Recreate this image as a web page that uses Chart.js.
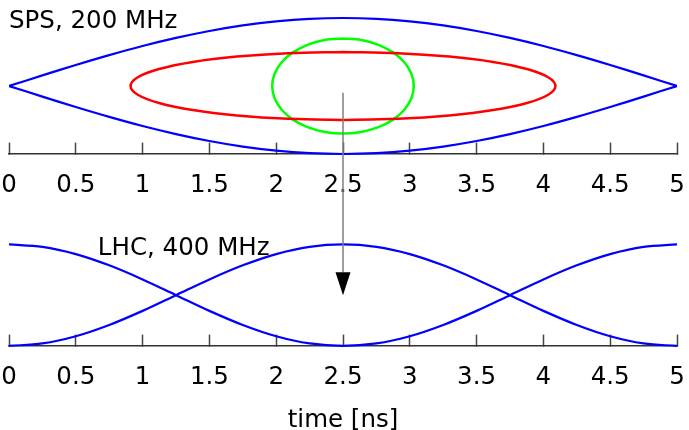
<!DOCTYPE html>
<html lang="en">
<head>
  <meta charset="UTF-8">
  <title>SPS / LHC buckets</title>
  <style>
    body { margin: 0; background: #ffffff; }
    #chart-box { position: relative; width: 689px; height: 430px; }
  </style>
</head>
<body>
  <div id="chart-box"><canvas id="bucket-chart"></canvas></div>

  <script src="https://cdn.jsdelivr.net/npm/chart.js"></script>
  <script>
    // time samples [ns], shared by both panels
    const timeSteps = [0, 0.25, 0.5, 0.75, 1, 1.25, 1.5, 1.75, 2, 2.25, 2.5,
      2.75, 3, 3.25, 3.5, 3.75, 4, 4.25, 4.5, 4.75, 5];
    const tickValues = [0, 0.5, 1, 1.5, 2, 2.5, 3, 3.5, 4, 4.5, 5];
    const tickLabels = ['0', '0.5', '1', '1.5', '2', '2.5', '3', '3.5', '4', '4.5', '5'];

    // SPS 200 MHz bucket (upper panel)
    const separatrixTop = [0, 0.156, 0.309, 0.454, 0.588, 0.707, 0.809, 0.891, 0.951, 0.988, 1,
      0.988, 0.951, 0.891, 0.809, 0.707, 0.588, 0.454, 0.309, 0.156, 0];
    const separatrixBottom = [0, -0.156, -0.309, -0.454, -0.588, -0.707, -0.809, -0.891, -0.951, -0.988, -1,
      -0.988, -0.951, -0.891, -0.809, -0.707, -0.588, -0.454, -0.309, -0.156, 0];

    const redX = [2.5, 2.912, 3.295, 3.624, 3.877, 4.036, 4.09, 4.036, 3.877, 3.624, 3.295, 2.912, 2.5,
      2.088, 1.705, 1.376, 1.123, 0.964, 0.91, 0.964, 1.123, 1.376, 1.705, 2.088, 2.5];
    const redY = [0.5, 0.483, 0.433, 0.354, 0.25, 0.129, 0, -0.129, -0.25, -0.354, -0.433, -0.483, -0.5,
      -0.483, -0.433, -0.354, -0.25, -0.129, 0, 0.129, 0.25, 0.354, 0.433, 0.483, 0.5];

    const greenX = [2.5, 2.637, 2.765, 2.875, 2.959, 3.012, 3.03, 3.012, 2.959, 2.875, 2.765, 2.637, 2.5,
      2.363, 2.235, 2.125, 2.041, 1.988, 1.97, 1.988, 2.041, 2.125, 2.235, 2.363, 2.5];
    const greenY = [0.7, 0.676, 0.606, 0.495, 0.35, 0.181, 0, -0.181, -0.35, -0.495, -0.606, -0.676, -0.7,
      -0.676, -0.606, -0.495, -0.35, -0.181, 0, 0.181, 0.35, 0.495, 0.606, 0.676, 0.7];

    // LHC 400 MHz (lower panel)
    const lhcFalling = [1, 0.976, 0.905, 0.794, 0.655, 0.5, 0.345, 0.206, 0.095, 0.024, 0,
      0.024, 0.095, 0.206, 0.345, 0.5, 0.655, 0.794, 0.905, 0.976, 1];
    const lhcRising = [0, 0.024, 0.095, 0.206, 0.345, 0.5, 0.655, 0.794, 0.905, 0.976, 1,
      0.976, 0.905, 0.794, 0.655, 0.5, 0.345, 0.206, 0.095, 0.024, 0];

    const panelLabels = ['SPS, 200 MHz', 'LHC, 400 MHz'];
    const axisTitle = 'time [ns]';

    // injection arrow: from the SPS bunch down into the LHC bucket
    const arrowTime = 2.5;
    const arrowStart = -0.1;  // upper panel units
    const arrowEnd = 0.5;     // lower panel units

    const pairs = (xs, ys) => xs.map((x, i) => ({ x: x, y: ys[i] }));

    const FONT = "'DejaVu Sans', sans-serif";
    Chart.defaults.font.family = FONT;
    Chart.defaults.font.size = 24.5;
    Chart.defaults.color = '#000000';

    const curve = (data, color, width, extra) => Object.assign({
      data: data,
      borderColor: color,
      borderWidth: width,
      pointRadius: 0,
      tension: 0.34,
      fill: false
    }, extra);

    // ticks point up into the panel, so tickLength is negative;
    // the big label lineHeight pushes the labels below the axis line
    const timeAxis = (pos, withTitle) => ({
      type: 'linear',
      position: pos,
      min: 0,
      max: 5,
      afterBuildTicks: (scale) => { scale.ticks = tickValues.map(v => ({ value: v })); },
      ticks: {
        padding: 0,
        font: { size: 24.5, lineHeight: 3.59 },
        callback: (v, i) => tickLabels[i]
      },
      grid: {
        drawOnChartArea: false,
        drawTicks: true,
        tickLength: -12,
        tickColor: '#444444',
        tickWidth: 1.5
      },
      border: { display: true, color: '#333333', width: 1.6 },
      title: {
        display: withTitle,
        text: axisTitle,
        font: { size: 24.5 },
        padding: { top: -15.6, bottom: 0 }
      }
    });

    const labelPlugin = {
      id: 'panelLabels',
      afterDraw(chart) {
        const { ctx, scales } = chart;
        ctx.save();
        ctx.font = '24.5px ' + FONT;
        ctx.fillStyle = '#000000';
        ctx.textAlign = 'left';
        ctx.textBaseline = 'alphabetic';
        ctx.fillText(panelLabels[0], scales.x.getPixelForValue(0), scales.y.getPixelForValue(0.853));
        ctx.fillText(panelLabels[1], scales.xb.getPixelForValue(0.665), scales.y2.getPixelForValue(0.894));
        ctx.restore();
      }
    };

    const arrowPlugin = {
      id: 'bunchArrow',
      afterDraw(chart) {
        const { ctx, scales } = chart;
        const x = scales.x.getPixelForValue(arrowTime);
        const y0 = scales.y.getPixelForValue(arrowStart);
        const y1 = scales.y2.getPixelForValue(arrowEnd);
        const headLen = 23;
        const headHalf = 7.5;
        ctx.save();
        ctx.strokeStyle = '#7f7f7f';
        ctx.lineWidth = 1.5;
        ctx.beginPath();
        ctx.moveTo(x, y0);
        ctx.lineTo(x, y1 - headLen);
        ctx.stroke();
        ctx.fillStyle = '#000000';
        ctx.beginPath();
        ctx.moveTo(x - headHalf, y1 - headLen);
        ctx.lineTo(x + headHalf, y1 - headLen);
        ctx.lineTo(x, y1);
        ctx.closePath();
        ctx.fill();
        ctx.restore();
      }
    };

    new Chart(document.getElementById('bucket-chart'), {
      type: 'line',
      data: {
        datasets: [
          curve(pairs(timeSteps, separatrixTop), '#0000ff', 2.2),
          curve(pairs(timeSteps, separatrixBottom), '#0000ff', 2.2),
          curve(pairs(redX, redY), '#ff0000', 2.5),
          curve(pairs(greenX, greenY), '#00ff00', 2.5),
          curve(pairs(timeSteps, lhcFalling), '#0000ff', 2.2, { xAxisID: 'xb', yAxisID: 'y2' }),
          curve(pairs(timeSteps, lhcRising), '#0000ff', 2.2, { xAxisID: 'xb', yAxisID: 'y2' })
        ]
      },
      options: {
        responsive: true,
        maintainAspectRatio: false,
        animation: false,
        layout: { padding: { left: 9, right: 12, top: 1, bottom: 4 } },
        plugins: {
          legend: { display: false },
          tooltip: { enabled: false }
        },
        scales: {
          y: { type: 'linear', display: false, min: -5, max: 1.25 },
          y2: { type: 'linear', display: false, min: -0.79, max: 3.4 },
          x: timeAxis({ y: -1 }, false),
          xb: timeAxis({ y2: 0 }, true)
        }
      },
      plugins: [labelPlugin, arrowPlugin]
    });
  </script>
</body>
</html>
